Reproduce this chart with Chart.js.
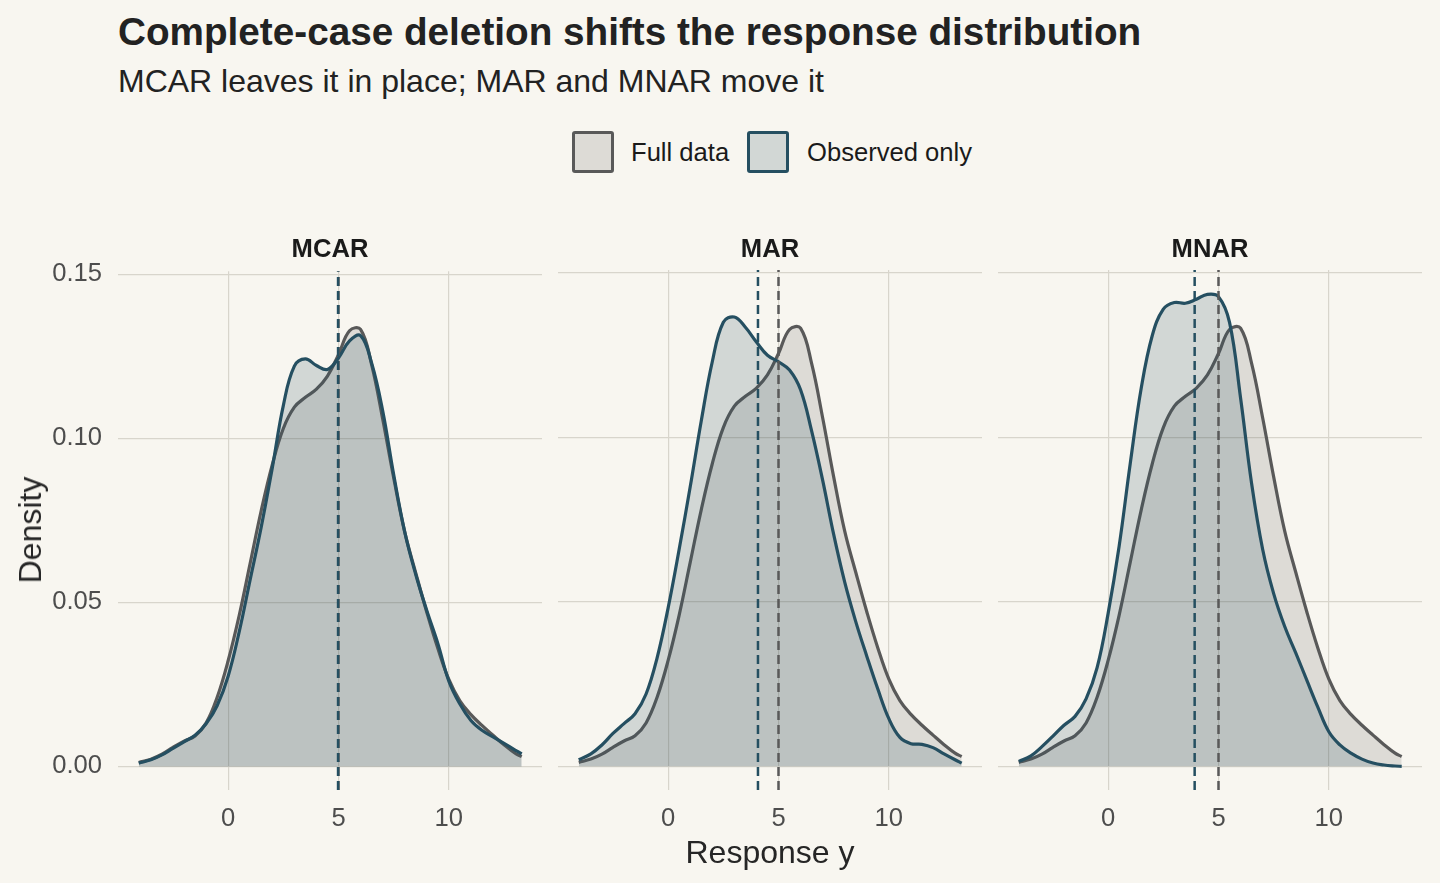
<!DOCTYPE html>
<html>
<head>
<meta charset="utf-8">
<script src="https://cdn.jsdelivr.net/npm/chart.js@4/dist/chart.umd.min.js"></script>
<style>
  body { margin: 0; width: 1440px; height: 883px; overflow: hidden; position: relative;
         background: #f8f6f0; font-family: "Liberation Sans", Arial, sans-serif; }
  canvas { position: absolute; }
  .txt { position: absolute; line-height: 1; white-space: nowrap; }
  .key { position: absolute; width: 42px; height: 42px; box-sizing: border-box;
         border: 3px solid; border-radius: 3px; }
</style>
</head>
<body>

<div class="txt" style="left:118px;top:13px;font-size:38.7px;font-weight:bold;color:#222;">Complete-case deletion shifts the response distribution</div>
<div class="txt" style="left:118px;top:65px;font-size:32px;color:#222;">MCAR leaves it in place; MAR and MNAR move it</div>

<div class="key" style="left:572px;top:131px;border-color:#595959;background:rgba(89,89,89,0.17);"></div>
<div class="txt" style="left:631px;top:140px;font-size:25.6px;color:#1a1a1a;">Full data</div>
<div class="key" style="left:747px;top:131px;border-color:#254f61;background:rgba(37,79,97,0.18);"></div>
<div class="txt" style="left:807px;top:140px;font-size:25.6px;color:#1a1a1a;">Observed only</div>

<canvas id="c0" width="542" height="610" style="left:0px;top:240px;"></canvas>
<canvas id="c1" width="424" height="610" style="left:558px;top:240px;"></canvas>
<canvas id="c2" width="424" height="610" style="left:998px;top:240px;"></canvas>

<div id="strips"></div>
<div class="txt" style="left:770px;top:836px;font-size:32px;color:#262626;transform:translateX(-50%);">Response y</div>
<div class="txt" style="left:30px;top:530px;font-size:32px;color:#262626;transform:translate(-50%,-50%) rotate(-90deg);">Density</div>

<script>
// panels and legend entries
var panels = ['MCAR', 'MAR', 'MNAR'];
var seriesNames = ['Full data', 'Observed only'];

// x positions where the densities were read
var yGrid = [-4.05, -3.5, -3, -2.5, -2, -1.5, -1, -0.5, 0, 0.5, 1, 1.5, 2, 2.5, 3, 3.5,
             4, 4.5, 5, 5.5, 6, 6.5, 7, 7.5, 8, 8.5, 9, 9.5, 10, 10.5, 11, 11.5, 12, 12.5, 13, 13.3];

// full data density (same in every panel)
var fullDensity = [0.0012, 0.0022, 0.0037, 0.0058, 0.0077, 0.0093, 0.0132, 0.0210, 0.0322, 0.0460,
                   0.0620, 0.0780, 0.0920, 0.1030, 0.1095, 0.1125, 0.1150, 0.1190, 0.1255, 0.1328,
                   0.1332, 0.1225, 0.1060, 0.0880, 0.0715, 0.0590, 0.0470, 0.0360, 0.0265, 0.0200,
                   0.0158, 0.0125, 0.0095, 0.0066, 0.0040, 0.0030];

// observed-only densities
var mcarObserved = [0.0010, 0.0020, 0.0035, 0.0055, 0.0075, 0.0095, 0.0130, 0.0185, 0.0275, 0.0410,
                    0.0570, 0.0730, 0.0910, 0.1100, 0.1220, 0.1242, 0.1222, 0.1210, 0.1245, 0.1297,
                    0.1313, 0.1230, 0.1085, 0.0890, 0.0715, 0.0585, 0.0475, 0.0375, 0.0260, 0.0190,
                    0.0140, 0.0110, 0.0090, 0.0070, 0.0050, 0.0038];
var marObserved = [0.0020, 0.0038, 0.0065, 0.0100, 0.0130, 0.0160, 0.0220, 0.0330, 0.0482, 0.0660,
                   0.0850, 0.1050, 0.1230, 0.1350, 0.1366, 0.1335, 0.1290, 0.1250, 0.1230, 0.1205,
                   0.1145, 0.1020, 0.0870, 0.0705, 0.0560, 0.0440, 0.0335, 0.0235, 0.0145, 0.0088,
                   0.0069, 0.0067, 0.0057, 0.0038, 0.0020, 0.0010];
var mnarObserved = [0.0015, 0.0032, 0.0060, 0.0092, 0.0125, 0.0152, 0.0205, 0.0300, 0.0465, 0.0670,
                    0.0920, 0.1150, 0.1310, 0.1390, 0.1410, 0.1408, 0.1420, 0.1435, 0.1428, 0.1350,
                    0.1120, 0.0860, 0.0660, 0.0525, 0.0425, 0.0345, 0.0262, 0.0180, 0.0105, 0.0065,
                    0.0040, 0.0022, 0.0010, 0.0004, 0.0001, 0.0000];

// means (dashed lines)
var fullMean = 5.0;
var observedMeans = [4.98, 4.07, 3.92];

// ticks
var xTicks = [0, 5, 10];
var xTickLabels = ['0', '5', '10'];
var yTicks = [0, 0.05, 0.10, 0.15];
var yTickLabels = ['0.00', '0.05', '0.10', '0.15'];

var observedByPanel = [mcarObserved, marObserved, mnarObserved];

var grey = '#595959', greyFill = 'rgba(89,89,89,0.17)';
var blue = '#254f61', blueFill = 'rgba(37,79,97,0.18)';
var gridColor = '#d8d5cc';
var yMin = -0.00719, yMax = 0.1509;

Chart.defaults.font.family = '"Liberation Sans", Arial, sans-serif';

function toPoints(ys) {
    return yGrid.map(function (x, k) { return { x: x, y: ys[k] }; });
}

function meanLine(m) {
    return [{ x: m, y: yMin }, { x: m, y: yMax }];
}

var stripCenters = [330, 770, 1210];
var strips = document.getElementById('strips');

panels.forEach(function (name, i) {
    var lab = document.createElement('div');
    lab.className = 'txt';
    lab.textContent = name;
    lab.style.cssText = 'left:' + stripCenters[i] + 'px;top:236px;font-size:25.6px;font-weight:bold;color:#1a1a1a;transform:translateX(-50%);';
    strips.appendChild(lab);

    var axisW = i === 0 ? 118 : 0;
    new Chart(document.getElementById('c' + i), {
        type: 'line',
        data: {
            datasets: [
                { label: seriesNames[1], data: toPoints(observedByPanel[i]), borderColor: blue,
                  backgroundColor: blueFill, fill: 'origin', borderWidth: 3.2, pointRadius: 0,
                  tension: 0.4, order: 2 },
                { label: seriesNames[0], data: toPoints(fullDensity), borderColor: grey,
                  backgroundColor: greyFill, fill: 'origin', borderWidth: 3.2, pointRadius: 0,
                  tension: 0.4, order: 3 },
                { label: 'obs mean', data: meanLine(observedMeans[i]), borderColor: blue,
                  borderDash: [9, 5], borderWidth: 2.5, fill: false, pointRadius: 0, order: 0 },
                { label: 'full mean', data: meanLine(fullMean), borderColor: grey,
                  borderDash: [9, 5], borderWidth: 2.5, fill: false, pointRadius: 0, order: 1 }
            ]
        },
        options: {
            responsive: false,
            animation: false,
            devicePixelRatio: 1,
            layout: { padding: { top: 30, right: 0, bottom: 0, left: 0 } },
            plugins: { legend: { display: false }, tooltip: { enabled: false } },
            scales: {
                x: {
                    type: 'linear', min: -4.99, max: 14.22,
                    afterBuildTicks: function (s) { s.ticks = xTicks.map(function (v) { return { value: v }; }); },
                    afterFit: function (s) { s.height = 60; },
                    grid: { color: gridColor, lineWidth: 1.2, drawTicks: false },
                    border: { display: false },
                    ticks: { padding: 14, color: '#4d4d4d', font: { size: 25.6 },
                             callback: function (v, idx) { return xTickLabels[idx]; } }
                },
                y: {
                    type: 'linear', min: yMin, max: yMax,
                    afterBuildTicks: function (s) { s.ticks = yTicks.map(function (v) { return { value: v }; }); },
                    afterFit: function (s) { s.width = axisW; },
                    grid: { color: gridColor, lineWidth: 1.2, drawTicks: false },
                    border: { display: false },
                    ticks: { display: i === 0, padding: 16, color: '#4d4d4d', font: { size: 25.6 },
                             callback: function (v, idx) { return yTickLabels[idx]; } }
                }
            }
        }
    });
});
</script>
</body>
</html>
